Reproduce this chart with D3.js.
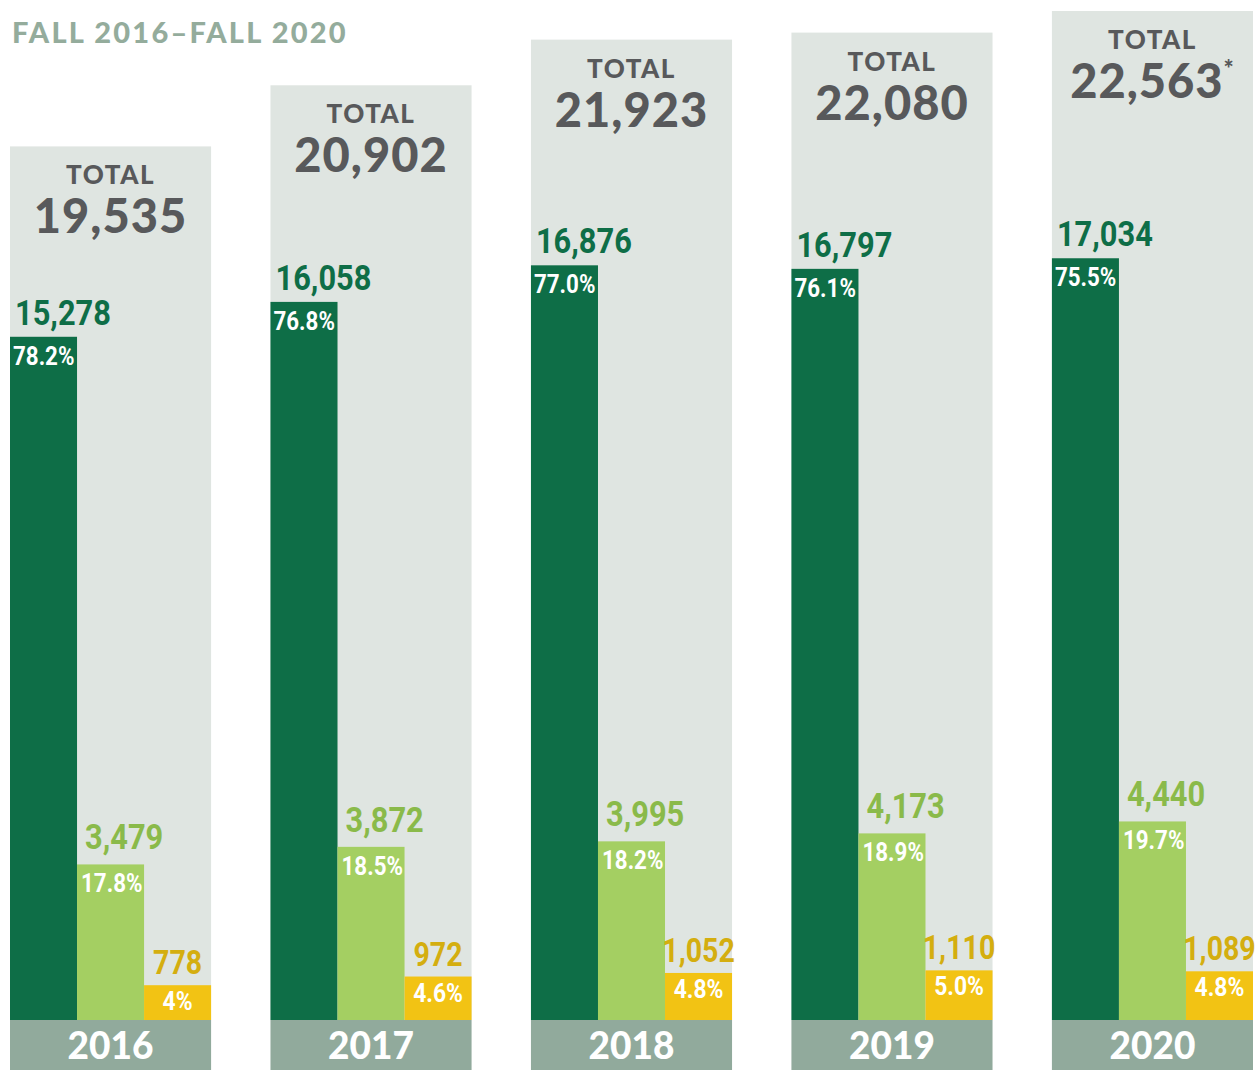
<!DOCTYPE html>
<html><head><meta charset="utf-8">
<script src="https://cdn.jsdelivr.net/npm/d3@7"></script>
<style>
body{margin:0;background:#fff;}
svg{display:block;}
</style></head>
<body>
<svg id="chart" width="1256" height="1070"></svg>
<script>
const years = ["2016","2017","2018","2019","2020"];
const totals = [19535, 20902, 21923, 22080, 22563];
const totalLabels = ["19,535","20,902","21,923","22,080","22,563"];
const seriesA = [15278, 16058, 16876, 16797, 17034];
const seriesB = [3479, 3872, 3995, 4173, 4440];
const seriesC = [778, 972, 1052, 1110, 1089];
const pctA = ["78.2%","76.8%","77.0%","76.1%","75.5%"];
const pctB = ["17.8%","18.5%","18.2%","18.9%","19.7%"];
const pctC = ["4%","4.6%","4.8%","5.0%","4.8%"];
const title = "FALL 2016–FALL 2020";

const svg = d3.select("#chart");
const W = 1256, H = 1070;
const base = 1020;
const x = d3.scaleBand().domain(years).range([10, 1253]).paddingInner(0.228).paddingOuter(0);
const y = d3.scaleLinear().domain([0, 22563]).range([base, 11]);
const sub = d3.scaleBand().domain([0,1,2]).range([0, x.bandwidth()]);

const C = {dark:"#0e6e47", light:"#a4cf62", yellow:"#f2c314", bg:"#dfe5e1", band:"#91aa9c",
  total:"#58595b", darkLbl:"#0e6e47", lightLbl:"#8aba4a", yellowLbl:"#d4ae0f", title:"#94ac9c"};
const geo = "Lato, 'Open Sans', sans-serif";
const cond = "Roboto, sans-serif";

svg.append("text").attr("x", 12).attr("y", 43).text(title)
  .attr("font-family", geo).attr("font-weight", 900).attr("font-size", 29)
  .attr("letter-spacing", 2.2).attr("fill", C.title);

const series = [
  {vals: seriesA, pct: pctA, fill: C.dark, lbl: C.darkLbl, align: "left", lx: 5, px: 3, gap: 12},
  {vals: seriesB, pct: pctB, fill: C.light, lbl: C.lightLbl, align: "left", lx: 8, px: 4, gap: 15},
  {vals: seriesC, pct: pctC, fill: C.yellow, lbl: C.yellowLbl, align: "center", gap: 11}
];

function condText(g, tx, ty, str, size, fill, anchor, sx) {
  g.append("text")
    .attr("transform", `translate(${tx},${ty}) scale(${sx},1)`)
    .attr("text-anchor", anchor)
    .attr("font-family", cond).attr("font-weight", 700).attr("font-size", size)
    .attr("fill", fill).text(str);
}

years.forEach((yr, i) => {
  const g = svg.append("g");
  const x0 = x(yr), bw = x.bandwidth(), cx = x0 + bw/2;
  g.append("rect").attr("x", x0).attr("y", y(totals[i])).attr("width", bw)
    .attr("height", base - y(totals[i])).attr("fill", C.bg);
  g.append("text").attr("x", cx).attr("y", y(totals[i]) + 38).attr("text-anchor","middle")
    .attr("font-family", geo).attr("font-weight", 900).attr("font-size", 26).attr("letter-spacing", 1.5)
    .attr("fill", C.total).text("TOTAL");
  const tt = g.append("text").attr("x", cx).attr("y", y(totals[i]) + 87).attr("text-anchor","middle")
    .attr("font-family", geo).attr("font-weight", 900).attr("font-size", 47).attr("letter-spacing", 1)
    .attr("fill", C.total).text(totalLabels[i]);
  if (yr === "2020") tt.append("tspan").attr("dy", -20).attr("font-size", 24).text("*");

  series.forEach((s, j) => {
    const bx = x0 + sub(j), sw = sub.bandwidth();
    const v = s.vals[i];
    const ty = y(v);
    g.append("rect").attr("x", bx).attr("y", ty).attr("width", sw).attr("height", base - ty).attr("fill", s.fill);
    const label = d3.format(",")(v);
    if (s.align === "center") {
      condText(g, bx + sw/2, ty - s.gap, label, 34, s.lbl, "middle", 0.84);
      condText(g, bx + sw/2, ty + 25, s.pct[i], 26, "#fff", "middle", 0.88);
    } else {
      condText(g, bx + s.lx, ty - s.gap, label, 35, s.lbl, "start", 0.88);
      condText(g, bx + s.px, ty + 28, s.pct[i], 26, "#fff", "start", 0.86);
    }
  });

  g.append("rect").attr("x", x0).attr("y", base).attr("width", bw).attr("height", H - base).attr("fill", C.band);
  g.append("text").attr("x", cx).attr("y", 1059).attr("text-anchor","middle")
    .attr("font-family", geo).attr("font-weight", 900).attr("font-size", 37).attr("fill", "#fff").text(yr);
});
</script>
</body></html>
